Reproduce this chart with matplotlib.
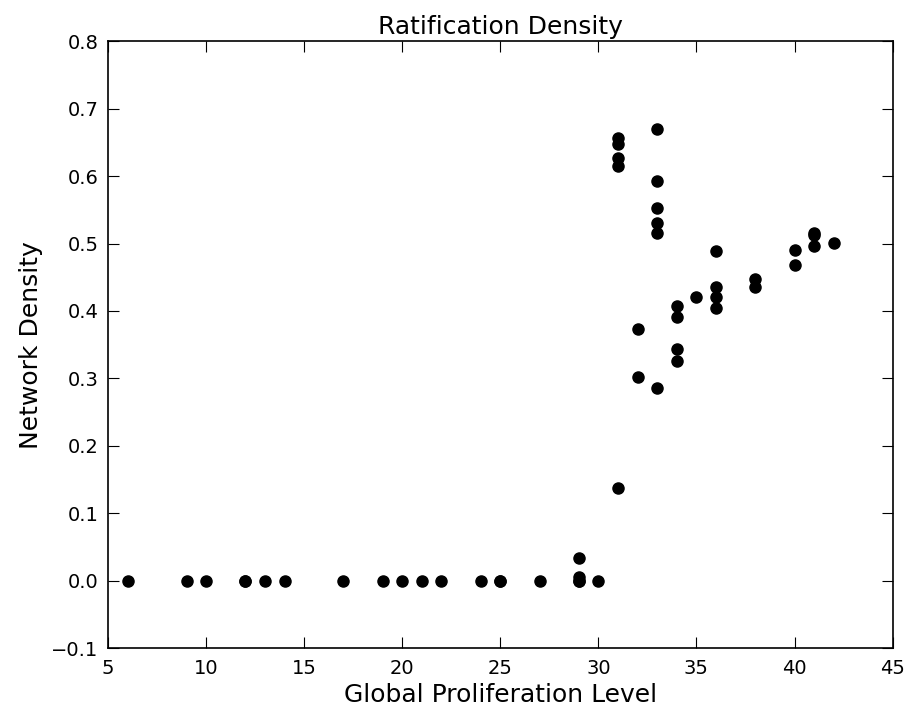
import matplotlib
matplotlib.use("Agg")
import matplotlib.pyplot as plt

level = [6, 9, 10, 12, 12, 13, 14, 17, 19, 20, 21, 22, 24, 25, 25, 27,
         29, 29, 29, 29, 30,
         31, 31, 31, 31, 31,
         32, 32,
         33, 33, 33, 33, 33, 33,
         34, 34, 34, 34,
         35,
         36, 36, 36, 36,
         38, 38,
         40, 40,
         41, 41, 41,
         42]
density = [0.0, 0.0, 0.0, 0.0, 0.0, 0.0, 0.0, 0.0, 0.0, 0.0, 0.0, 0.0, 0.0, 0.0, 0.0, 0.0,
           0.0, 0.0, 0.005, 0.034, 0.0,
           0.137, 0.615, 0.627, 0.648, 0.656,
           0.374, 0.302,
           0.670, 0.593, 0.553, 0.531, 0.516, 0.286,
           0.408, 0.391, 0.343, 0.326,
           0.420,
           0.489, 0.435, 0.420, 0.404,
           0.447, 0.436,
           0.491, 0.468,
           0.516, 0.512, 0.497,
           0.501]

fig = plt.figure(figsize=(9.08, 7.10), dpi=100)
ax = fig.add_axes([0.119, 0.087, 0.864, 0.855])
ax.plot(level, density, linestyle='none', marker='o', color='black',
        markersize=8, markeredgecolor='black')
ax.set_xlim(5, 45)
ax.set_ylim(-0.1, 0.8)
ax.set_xticks(range(5, 46, 5))
ax.set_yticks([-0.1, 0.0, 0.1, 0.2, 0.3, 0.4, 0.5, 0.6, 0.7, 0.8])
ax.set_yticklabels(['\u22120.1', '0.0', '0.1', '0.2', '0.3', '0.4', '0.5', '0.6', '0.7', '0.8'])
ax.tick_params(direction='in', top=True, right=True, length=8, width=0.8, labelsize=14)
ax.tick_params(axis='x', pad=8)
ax.tick_params(axis='y', pad=7)
for s in ax.spines.values():
    s.set_linewidth(1.2)
ax.set_title('Ratification Density', fontsize=18, pad=5)
ax.set_xlabel('Global Proliferation Level', fontsize=18, labelpad=3)
ax.set_ylabel('Network Density', fontsize=18, labelpad=6)
fig.savefig('out.png', dpi=100)
